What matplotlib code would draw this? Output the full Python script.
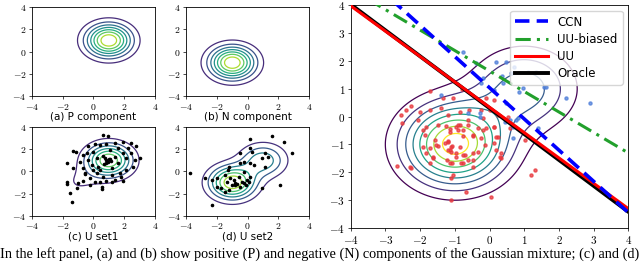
import numpy as np
import matplotlib.pyplot as plt
from matplotlib.ticker import FuncFormatter

plt.rcParams['mathtext.fontset'] = 'cm'

# gaussian mixture components (mean) and class priors used for each panel
mu_p = (1.0, 1.0)
mu_n = (-1.0, -1.0)
theta_set1 = 0.88   # share of P in U set1
theta_set2 = 0.35   # share of P in U set2
theta_right = 0.30
right_levels = [0.015, 0.028, 0.041, 0.054, 0.067, 0.080, 0.093, 0.105]

# U set1 samples (c)
u1_x = [0.63, 0.92, -1.32, -1.16, -1.75, -1.32, -1.75, -1.75, -0.99, -1.10, -1.53, -1.38,
        -0.56, -0.23, 0.53, 0.57, 0.09, 0.85, 1.18, 1.93, -0.67, -0.34, 0.09, 0.42, 0.85,
        1.39, 1.93, 2.43, 2.80, 2.25, 1.60, 1.06, -0.45, -0.02, -0.71, -0.88, -0.67, -0.34,
        -0.12, 0.20, 0.31, 0.63, 0.85, 0.95, 0.81, 1.06, 0.68, 1.39, 1.60, 1.93, 2.15, 2.47,
        2.69, 3.01, 2.58, 2.15, 1.71, 1.18, 0.63, 0.20, -0.23, 0.42, 1.39, 1.82, 1.18, -0.02,
        0.42, -0.56, 1.00, 1.12, 0.75]
u1_y = [3.28, 3.22, 1.84, 1.78, 0.73, 0.28, -0.93, -1.14, -1.07, -1.52, -1.92, -2.73,
        -0.23, -1.23, -1.38, -1.61, -0.93, -0.86, -0.98, -0.84, -0.86, 2.29, 2.47, 2.38, 2.47,
        2.53, 2.68, 2.59, 2.29, 2.08, 2.08, 1.93, 1.63, 1.78, 1.48, 0.87, 0.28, 1.03,
        0.58, 1.18, 0.42, 1.39, 1.03, 0.87, 0.73, 1.09, 0.67, 1.33, 0.73, 1.63, 1.18, 1.63,
        1.03, 1.18, 0.42, 0.13, -0.17, -0.32, -0.48, -0.17, -0.62, -0.93, -0.77, -0.48, 0.28, 0.13,
        0.13, -0.17, 1.10, 0.95, 1.25]

# U set2 samples (d)
u2_x = [0.14, 1.56, 2.36, 2.91, 0.14, -0.52, 0.29, 1.16, 0.95, -0.52, -0.21, 0.18, 0.40,
        -1.19, -1.30, 1.16, 2.10, -3.78, -2.76, -2.32, -1.99, -1.99, -1.73, -2.32, -1.45,
        -1.34, -1.12, -0.91, -0.80, -0.80, -0.58, -0.36, -0.25, -0.03, 0.08, -0.14, 0.18,
        -0.47, -1.01, -1.23, -0.25, 0.95, -1.45, 1.30, -0.70]
u2_y = [2.89, 3.19, 2.62, 1.68, 2.08, 1.63, 1.78, 1.63, 1.18, 0.79, 0.87, 0.73, 0.58,
        0.42, 0.13, 0.42, -1.23, -0.12, -0.62, -0.77, -0.62, -1.38, -1.52, -3.03, -0.32,
        -0.93, -0.62, -0.77, -1.02, -1.23, -0.48, -0.93, -1.07, -0.77, -0.93, -1.23, -0.53,
        -1.38, -1.23, -1.68, -0.03, -1.52, -1.83, 1.30, -1.10]

# right panel: negative (red) and positive (blue) samples
neg_x = [-1.73, -0.79, -1.06, -1.34, -2.25, -2.40, -2.01, -1.73, -1.39, -1.20, -0.86, -0.58,
         -0.24, -0.10, 0.14, 0.00, -0.19, 0.24, 0.14, 0.53, 0.58, -1.82, -1.49, -1.25,
         -0.96, -0.62, -0.33, -2.06, -2.54, -2.51, -1.92, -1.87, -1.58, -1.49, -1.92, -1.82,
         -1.63, -1.73, -2.30, -2.68, -1.20, -1.15, -1.07, -0.96, -1.23, -1.07, -1.05, -1.10,
         -0.81, -0.77, -0.62, -0.48, -0.48, -0.48, -0.77, -0.91, -0.19, 0.14, 0.19, -0.14,
         0.14, 0.29, 0.34, -0.67, -1.10, 0.05, 1.01, 1.20, 1.30, -1.15, -0.62, -0.86, -0.91,
         -1.15, -0.77, -0.48, -0.24, -1.29, -1.20, -1.10, -1.20, -1.10, -0.86, -1.53, -1.73,
         -1.63, -0.96, -0.72, -0.33, -0.48, -0.77, -1.15, -0.10, 0.24, 0.19, 0.34, -2.27]
neg_y = [0.92, 0.97, 0.65, 0.65, 0.37, 0.23, 0.17, 0.25, 0.29, 0.05, 0.17, 0.23,
         0.23, 0.65, 0.59, 0.25, -0.07, 0.05, -0.37, -0.01, -0.42, -0.37, -0.31, -0.34,
         -0.37, -0.31, -0.42, -0.13, 0.05, -0.23, -0.49, -0.67, -0.85, -1.06, -1.09, -1.32,
         -1.50, -1.68, -1.80, -1.78, -0.90, -1.20, -1.06, -1.32, -1.56, -1.68, -2.10, -2.22,
         -1.68, -1.38, -1.56, -1.80, -1.32, -0.67, -0.49, -0.31, -0.49, -0.37, -0.73, -1.03,
         -0.96, -1.44, -1.32, -2.70, -3.00, -2.88, -0.85, -2.10, -1.92, -0.55, -0.13, -0.31, -0.49,
         -0.46, -0.70, -0.70, -0.78, -0.96, -0.87, -1.09, -1.20, -1.27, -1.09, -1.03, -1.14,
         -1.44, -1.44, -1.38, -1.27, -1.56, -1.68, -1.68, -0.42, -0.73, -1.20, -1.50, -1.83]
pos_x = [-0.77, 0.19, 0.48, 0.69, 1.10, 1.34, -0.19, -0.24, 0.39, 0.14, 0.96, 1.58, 2.21,
         2.88, 0.48, 0.58, 0.82, 0.67, -1.39, -0.38, -0.62, -0.29, 0.37, 0.63, 1.63, 0.86,
         -0.29, 0.43, 0.67, 0.77, 1.39]
pos_y = [2.32, 1.96, 1.96, 1.78, 1.60, 1.60, 1.37, 1.21, 1.19, 0.95, 1.01, 1.07, 0.65,
         0.47, 0.47, -0.13, -0.07, -0.78, 0.77, 1.93, 0.13, 0.11, 1.45, 1.55, 1.07, 0.89,
         -0.01, -0.19, -0.37, -0.13, -0.42]

# decision boundaries y = a*x + b
boundaries = {
    'CCN': (-1.12, 1.03),
    'UU-biased': (-0.735, 1.63),
    'UU': (-0.91, 0.33),
    'Oracle': (-0.93, 0.30),
}

caption = ("In the left panel, (a) and (b) show positive (P) and negative (N) components "
           "of the Gaussian mixture; (c) and (d)")


def gauss(xx, yy, mu):
    return np.exp(-((xx - mu[0]) ** 2 + (yy - mu[1]) ** 2) / 2) / (2 * np.pi)


def cm_ticks(ax, ticks, size):
    ax.set_xticks(ticks)
    ax.set_yticks(ticks)
    fmt = FuncFormatter(lambda v, p: '$%d$' % v)
    ax.xaxis.set_major_formatter(fmt)
    ax.yaxis.set_major_formatter(fmt)
    ax.tick_params(labelsize=size, length=2.5, width=0.5, pad=1.5)
    for s in ax.spines.values():
        s.set_linewidth(0.6)


g = np.linspace(-4, 4, 300)
xx, yy = np.meshgrid(g, g)
dens_p = gauss(xx, yy, mu_p)
dens_n = gauss(xx, yy, mu_n)

fig = plt.figure(figsize=(6.4, 2.63), dpi=100)

small = [
    ([0.05, 0.635, 0.192, 0.338], dens_p, None, '(a) P component', 0.555),
    ([0.291, 0.635, 0.192, 0.338], dens_n, None, '(b) N component', 0.555),
    ([0.05, 0.179, 0.192, 0.338], theta_set1 * dens_p + (1 - theta_set1) * dens_n,
     (u1_x, u1_y), '(c) U set1', 0.099),
    ([0.291, 0.179, 0.192, 0.338], theta_set2 * dens_p + (1 - theta_set2) * dens_n,
     (u2_x, u2_y), '(d) U set2', 0.099),
]
for rect, dens, pts, label, ly in small:
    ax = fig.add_axes(rect)
    ax.contour(xx, yy, dens, linewidths=0.9)
    if pts is not None:
        ax.scatter(pts[0], pts[1], s=2.5, c='black', zorder=3)
    ax.set_xlim(-4, 4)
    ax.set_ylim(-4, 4)
    cm_ticks(ax, [-4, -2, 0, 2, 4], 7)
    fig.text(rect[0] + rect[2] / 2, ly, label, ha='center', va='center', fontsize=7.5)

ax = fig.add_axes([0.548, 0.133, 0.434, 0.848])
ax.contour(xx, yy, theta_right * dens_p + (1 - theta_right) * dens_n,
           levels=right_levels, linewidths=0.9)
ax.scatter(neg_x, neg_y, s=5, c='#e8383d', alpha=0.75, zorder=3)
ax.scatter(pos_x, pos_y, s=5, c='#4f7fd9', alpha=0.75, zorder=3)

lx = np.linspace(-5, 5, 50)
styles = {
    'CCN': dict(color='blue', ls=(0, (4, 2)), lw=2.6, zorder=6),
    'UU-biased': dict(color='#22a02c', ls=(0, (5, 2, 1, 2)), lw=2.2, zorder=5),
    'UU': dict(color='red', ls='-', lw=2.2, zorder=5),
    'Oracle': dict(color='black', ls='-', lw=2.8, zorder=4),
}
for name, (a, b) in boundaries.items():
    ax.plot(lx, a * lx + b, label=name, **styles[name])

ax.set_xlim(-4, 4)
ax.set_ylim(-4, 4)
cm_ticks(ax, range(-4, 5), 8)
ax.legend(loc='upper right', fontsize=8.5, handlelength=2.8, borderpad=0.4,
          labelspacing=0.35, borderaxespad=0.5)

fig.text(0.0, 0.035, caption, family='Liberation Serif', fontsize=10.3, va='center')

fig.savefig('out.png', dpi=100)
